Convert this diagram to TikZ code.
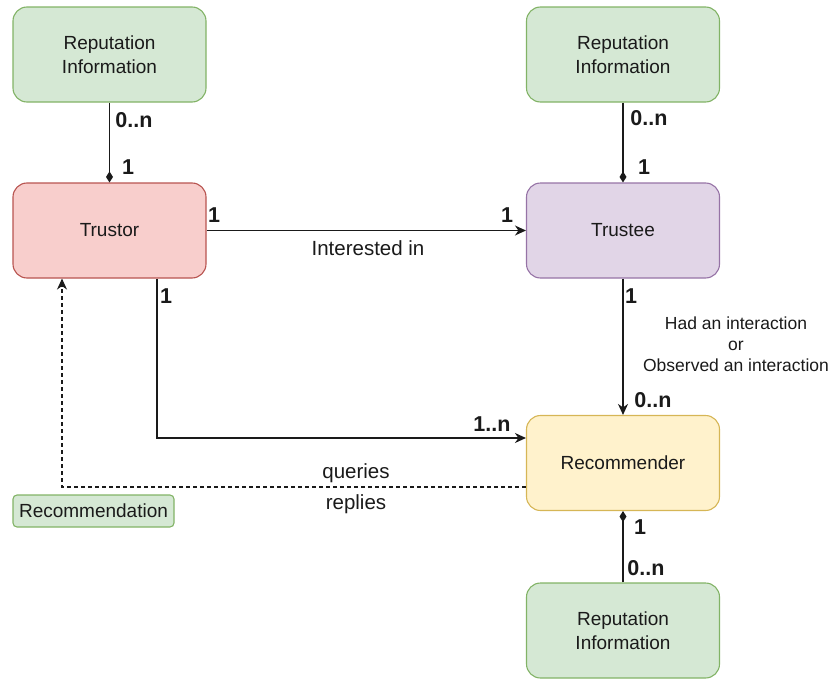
\documentclass[tikz,border=0pt]{standalone}
\usepackage{fontspec}
\setmainfont{Liberation Sans}
\usetikzlibrary{arrows.meta,positioning}

\definecolor{greenfill}{HTML}{D5E8D4}
\definecolor{greenline}{HTML}{82B366}
\definecolor{redfill}{HTML}{F8CECC}
\definecolor{redline}{HTML}{B85450}
\definecolor{purplefill}{HTML}{E1D5E7}
\definecolor{purpleline}{HTML}{9673A6}
\definecolor{yellowfill}{HTML}{FFF2CC}
\definecolor{yellowline}{HTML}{D6B656}
\definecolor{inkcol}{HTML}{1A1A1A}

\tikzset{
  box/.style={draw, line width=1.1pt, rounded corners=14pt,
    minimum width=193pt, minimum height=95pt, align=center,
    text=inkcol, font=\fontsize{19}{24}\selectfont, inner sep=0pt},
  repbox/.style={box, fill=greenfill, draw=greenline},
  conn/.style={draw=inkcol, line width=1.5pt},
  arr/.style={conn, -{Stealth[length=11pt,width=10pt,inset=3.5pt]}},
  dia/.style={conn, -{Diamond[length=11pt,width=7pt]}},
  mult/.style={font=\bfseries\fontsize{21.5}{24}\selectfont, text=inkcol, inner sep=0pt},
  elabel/.style={font=\fontsize{20.5}{24}\selectfont, text=inkcol, inner sep=0pt},
  smalllabel/.style={font=\fontsize{17.5}{21}\selectfont, text=inkcol, inner sep=0pt, align=center},
}

\begin{document}
\begin{tikzpicture}[x=1pt,y=1pt]
\useasboundingbox (0,0) rectangle (830,-680);

% entity boxes
\node[repbox] (repA) at (109.5,-54.5) {Reputation\\Information};
\node[box, fill=redfill, draw=redline] (trustor) at (109.5,-230.5) {Trustor};
\node[repbox] (repB) at (623,-54.5) {Reputation\\Information};
\node[box, fill=purplefill, draw=purpleline] (trustee) at (623,-230.5) {Trustee};
\node[box, fill=yellowfill, draw=yellowline] (rec) at (623,-463) {Recommender};
\node[repbox] (repC) at (623,-630.5) {Reputation\\Information};

% small tag
\node[draw=greenline, fill=greenfill, line width=1.1pt, rounded corners=4pt,
  minimum width=161pt, minimum height=32pt, inner sep=0pt, text=inkcol,
  font=\fontsize{19}{22}\selectfont] (tag) at (93.5,-511) {Recommendation};

% reputation links
\draw[dia] (repA) -- (trustor);
\draw[dia] (repB) -- (trustee);
\draw[dia] (repC) -- (rec);

% relations
\draw[arr] (trustor) -- (trustee);
\draw[arr] (trustee) -- (rec);
\draw[arr] ([xshift=47.5pt]trustor.south) |- ([yshift=25pt]rec.west);
\draw[arr, line width=1.1pt, dash pattern=on 4pt off 3pt]
  ([yshift=-24pt]rec.west) -| ([xshift=-47.5pt]trustor.south);

% multiplicities
\node[mult] (mA0) at (134,-120) {0..n};
\node[mult] (mA1) at (128,-167) {1};
\node[mult] (mB0) at (649,-118) {0..n};
\node[mult] (mB1) at (644,-167) {1};
\node[mult] (mT1) at (214,-215) {1};
\node[mult] (mE1) at (507,-215) {1};
\node[mult] (mE2) at (631,-296) {1};
\node[mult] (mR0) at (653,-400) {0..n};
\node[mult] (mS1) at (166,-296) {1};
\node[mult] (mR1) at (492,-424) {1..n};
\node[mult] (mC1) at (640,-527) {1};
\node[mult] (mC0) at (646,-568) {0..n};

% relation labels
\node[elabel] (lint) at (368,-248) {Interested in};
\node[elabel] (lq) at (356,-473) {queries};
\node[elabel] (lr) at (356,-504) {replies};
\node[smalllabel] (lhad) at (736,-344) {Had an interaction\\or\\Observed an interaction};
\end{tikzpicture}
\end{document}
